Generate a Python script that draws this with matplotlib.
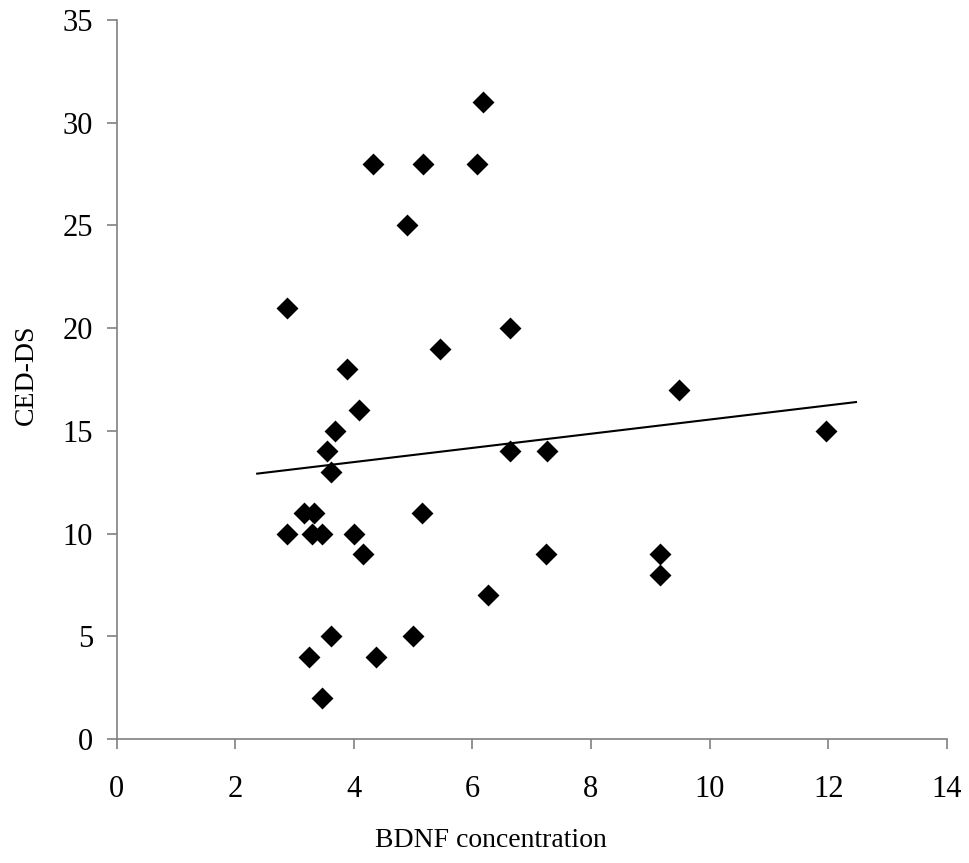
import numpy as np
import matplotlib
matplotlib.use("Agg")
import matplotlib.pyplot as plt

# BDNF concentration vs CED-DS score
bdnf = [4.32, 5.16, 6.07, 6.18, 4.89, 2.87, 6.64, 5.46, 3.88, 4.08,
        3.68, 3.54, 3.61, 6.63, 7.25, 3.16, 3.32, 5.15, 2.87, 3.29,
        3.47, 4.01, 4.15, 7.24, 6.27, 3.61, 4.99, 3.24, 4.38, 3.47,
        9.17, 9.17, 11.97, 9.48]
ced_ds = [28, 28, 28, 31, 25, 21, 20, 19, 18, 16,
          15, 14, 13, 14, 14, 11, 11, 11, 10, 10,
          10, 10, 9, 9, 7, 5, 5, 4, 4, 2,
          9, 8, 15, 17]

# linear trendline as drawn in the reference (slope, intercept)
trend_slope = 0.345
trend_intercept = 12.10
trend_forecast = 0.5  # extension past the data on both ends

x_ticks = [0, 2, 4, 6, 8, 10, 12, 14]
y_ticks = [0, 5, 10, 15, 20, 25, 30, 35]

plt.rcParams['font.family'] = ['Liberation Serif', 'DejaVu Serif']

fig = plt.figure(figsize=(9.69, 8.63), dpi=100)
ax = fig.add_axes([0.1204, 0.1437, 0.8566, 0.8331])

x = np.array(bdnf)
y = np.array(ced_ds)
ax.scatter(x, y, marker='D', s=125, color='black', zorder=3, linewidths=0)

tx = np.array([x.min() - trend_forecast, x.max() + trend_forecast])
ax.plot(tx, trend_slope * tx + trend_intercept, color='black', lw=1.5, zorder=2)

ax.set_xlim(0, 14)
ax.set_ylim(0, 35)
ax.set_xticks(x_ticks)
ax.set_yticks(y_ticks)

for s in ['top', 'right']:
    ax.spines[s].set_visible(False)
for s in ['left', 'bottom']:
    ax.spines[s].set_color('#808080')
    ax.spines[s].set_linewidth(1.2)

ax.tick_params(axis='both', direction='out', length=7, width=1.2,
               color='#808080', labelsize=22)
ax.tick_params(axis='x', pad=19)
ax.tick_params(axis='y', pad=10)

ax.set_xlabel('BDNF concentration', fontsize=20)
ax.set_ylabel('CED-DS', fontsize=20)
ax.xaxis.label.set_va('center')
ax.yaxis.label.set_va('center')
ax.xaxis.set_label_coords(0.451, -0.141)
ax.yaxis.set_label_coords(-0.109, 0.506)

fig.savefig('out.png', dpi=100)
